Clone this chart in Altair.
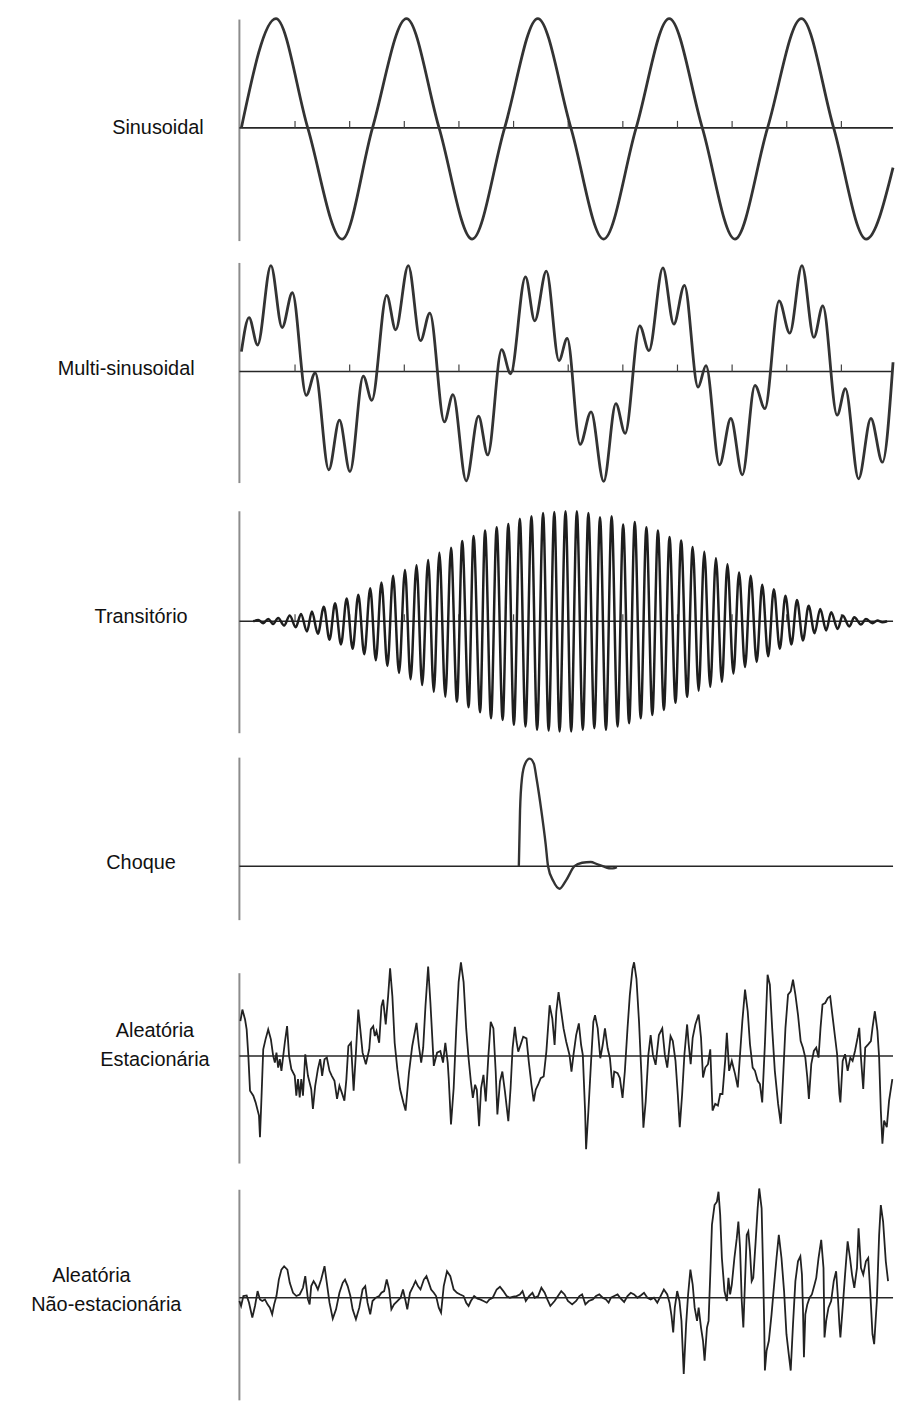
import altair as alt
import pandas as pd

# ---------------- data (time t in plot units, value v above the zero line) ----------------
SIN_T = [0, 34.8, 66.8, 101.3, 132, 166.2, 199, 232.3, 265, 298.4, 331.7, 364.6, 397.4,
         430.7, 464, 496.8, 529.7, 563.8, 596.2, 629, 656]
SIN_V = [0, 110, 0, -112, 0, 110, 0, -112, 0, 110, 0, -112, 0, 110, 0, -112, 0, 110, 0, -112, -40]

MULTI_T = [0, 7.7, 16.3, 29.7, 41, 51.3, 65.3, 74.3, 88, 98.7, 109.3, 122.7, 131.3, 146.3, 155.3,
           168, 180.3, 189.7, 204.3, 213, 226.3, 238.7, 248, 262, 271, 286, 295.3, 307, 319.7,
           328, 341, 352, 364.7, 377, 386.3, 401, 410.3, 424.3, 435.3, 446, 459.7, 467.7, 481.3,
           492.7, 504.3, 517, 527, 541.3, 552, 564.3, 576.3, 585.3, 599.7, 608, 621.3, 633.7,
           645.3, 656]
MULTI_V = [20, 54.3, 26.7, 106.7, 44.3, 79.3, -24, -1.3, -99, -49, -100.7, -4.7, -29, 76.7, 42,
           106.7, 31, 58.7, -50.7, -23.3, -110, -45, -84, 22, -2.3, 95.3, 51, 101, 11,
           33.3, -73.3, -40.7, -110.7, -32.3, -62.3, 46, 21, 104.3, 47.7, 86.7, -15.7, 6, -94,
           -47.3, -104, -14, -37.3, 71, 38.7, 106.7, 34.3, 66, -44, -17.3, -108, -47.3,
           -91.3, 9.3]

TRANS_T = [12, 17, 22, 27, 32, 37, 43, 48.7, 54.7, 60, 66, 71, 77, 83, 88.7, 94.3, 100.3, 106,
           112, 117.7, 123.7, 129.7, 135.3, 141, 147, 152.7, 158.7, 164.7, 170.3, 176.3, 182,
           188, 193.7, 199.3, 205.3, 211, 217, 222.3, 228.7, 233.7, 240.3, 245.3, 251.3, 257,
           263, 268.7, 274.3, 280.3, 286, 292, 297.7, 303.7, 309.3, 315, 320.3, 326.3, 332,
           337.7, 343.7, 349.3, 355.3, 361, 367, 372.7, 378.7, 384.3, 390.3, 396, 402, 407.7,
           413.7, 419.3, 425.3, 431, 437, 442.7, 448.7, 454.3, 460.3, 466, 472, 477.7, 483.7,
           489.3, 495.3, 501, 507, 512.7, 518.7, 524.3, 530.3, 536, 542, 547.7, 553.7, 559.3,
           565.3, 571, 577, 582.7, 588.7, 593.7, 600.3, 605.3, 612, 617, 623.7, 628.7, 635.3,
           640.3, 645.3, 650]
TRANS_V = [0, 1.2, -2, 2.3, -2.7, 3.3, -4.3, 5.7, -6, 7.3, -10.3, 9.7, -12.7, 14.7, -18.7, 18,
           -23.3, 23, -27.7, 26.7, -33.3, 33.3, -39.3, 39, -45, 45.7, -52, 51.7, -58.3, 56.3,
           -64.3, 61.7, -71, 69, -76, 74, -81, 80.7, -86.7, 85.7, -91.7, 91.3, -97.7, 94.7,
           -99.3, 98, -104.3, 103.3, -106, 105.7, -109.3, 109, -110, 110, -111, 110.7, -111,
           110.7, -109.3, 109, -107.7, 104.7, -109.3, 105.7, -106, 97.3, -102.7, 100, -97.7,
           94.7, -94.3, 91.3, -89.3, 84.7, -82, 81.3, -76, 74.7, -70, 70, -66, 63.3, -61,
           57.3, -52.7, 49, -46, 45.7, -41, 36.7, -35.3, 32.3, -27.7, 25.7, -23.3, 21.3,
           -19.3, 15.7, -12, 12.3, -9.3, 9, -7.7, 5.7, -5.3, 4, -3.3, 2.3, -2, 0.7, -1, 0]

SHOCK_T = [279.3, 280.5, 282.5, 285.5, 290.3, 294.5, 297, 302, 306.3, 308.7, 314, 320.3, 327,
           335.3, 343, 351.7, 358, 363.7, 370, 374, 378]
SHOCK_V = [0, 55.7, 89, 103, 108.3, 103, 89, 55.7, 22.3, 0, -15, -22.7, -14, 0, 3.5, 4.3, 2,
           0, -2, -2.2, -1]

STAT_T = [-1, 1, 3.7, 5.3, 7, 8.7, 12, 14.3, 17.7, 18.7, 20.3, 22, 24.3, 27, 29.7, 32, 33.7,
          35.3, 37, 38.7, 40.3, 43.7, 46, 48, 50.3, 53.7, 55.3, 57, 58.7, 60.3, 62, 64.3, 67,
          70.3, 72, 74.3, 77, 79.3, 81.3, 83.7, 86, 88.7, 91, 93.7, 96.3, 98.7, 101, 103.7,
          105.7, 107.7, 110.3, 113, 115.3, 117.7, 119.7, 122, 125.3, 128.7, 130.3, 132.7,
          134.3, 136, 138.7, 141, 142.7, 145.3, 147.7, 149.7, 152, 154.3, 157, 159.7, 163,
          165.3, 168.7, 172, 176.3, 178.7, 181, 183, 185.3, 188, 190.3, 193.7, 197, 200.3,
          203, 205.3, 207.7, 208.7, 211, 213.7, 216.3, 218.7, 221, 223.7, 226.3, 228.7, 231,
          233, 235.3, 237, 239.3, 241.3, 243.7, 246, 248.7, 251, 253.7, 256, 257.7, 260.3,
          262.7, 265.3, 268.7, 271, 273, 275.3, 277, 278.7, 281, 283.7, 287, 289.3, 292,
          294.3, 296.3, 298.7, 301.3, 304.3, 307, 310.3, 313, 315.3, 317, 319.3, 322, 324.3,
          327, 330.3, 332.3, 334.3, 337, 339.7, 342, 343.7, 346, 347, 349.3, 352, 354.3, 356,
          358.7, 361.3, 363.7, 366, 368.7, 371, 373.7, 375.3, 378.7, 381, 383.7, 386, 388.7,
          391, 393.7, 395.3, 397.7, 400.3, 402.7, 404.7, 407, 409.7, 412, 414.3, 417, 420.3,
          423.7, 426.3, 428.7, 432, 434.3, 437, 439.3, 441.3, 443.7, 446, 448.7, 450.3, 452.3,
          454.3, 457, 460.3, 462.7, 464.7, 467, 469.7, 472, 474.3, 477, 479.7, 482, 484.3,
          487, 488.7, 491, 493.7, 497, 499.7, 502, 504.3, 507, 509.7, 512, 514.7, 517, 519.7,
          522, 524.3, 527, 529.7, 532, 534.3, 537, 540.3, 543, 545.3, 547.7, 550.3, 553,
          555.3, 557.7, 560.3, 563, 565.3, 567.7, 569.7, 571.3, 573.7, 576.3, 578.7, 581, 583,
          585, 587.7, 590.3, 592.7, 595.3, 597.7, 599.7, 602, 603, 605.3, 607.7, 610.3, 613,
          615.3, 617.7, 620.3, 622, 623.7, 626, 628, 631, 633.7, 635.3, 637.7, 640.3, 642,
          643.7, 645.3, 647, 649.7, 652, 655.3]
STAT_V = [35, 46.7, 36.7, 26.7, 0, -35, -40, -46.7, -60, -81.7, -40, 6.7, 16.7, 26.7, 16.7, 0,
          -6.7, 3.3, -11.7, -3.3, -15, 13.3, 30, 0, -13.3, -20, -40, -23.3, -41.7, -23.3, -40,
          1.7, -20, -33.3, -53.3, -30, -13.3, -3.3, -20, -3.3, -1.7, -15, -20, -25, -43.3, -30,
          -36.7, -45, -23.3, 10, 13.3, -35, 3.3, 46.7, 26.7, 3.3, -8.3, 6.7, 26.7, 30, 20, 25,
          13.3, 50, 56.7, 31.7, 60, 88.3, 60, 13.3, -13.3, -33.3, -46.7, -55, -16.7, 10, 33.3,
          10, -6.7, 8.3, 50, 90, 53.3, -10, 3.3, 5, -6.7, 13.3, -6.7, -22.3, -69, -32.3, 27.7,
          74.3, 94.3, 74.3, 27.7, -2.3, -25.7, -42.3, -29, -34, -70.7, -32.3, -19, -45.7, 1,
          34.3, 27.7, -15.7, -59, -25.7, -15.7, -35.7, -65.7, -32.3, 7.7, 29.3, 14.3, 4.3, 11,
          19.3, 17.7, -5.7, -29, -45.7, -34, -29, -22.3, -20.7, 4.3, 51, 37.7, 11, 44.3, 64.3,
          44.3, 27.7, 14.3, 1, -15.7, 1, 21, 32.7, 11, 1, -55.7, -94, -55.7, -5.7, 34.3, 41,
          27.7, -2.3, 11, 27.7, 7.7, -2.3, -32.3, -15.7, -17.3, -22.3, -42.3, -15.7, 27.7, 61,
          87.7, 94.3, 77.7, 34.3, -19, -72.3, -45.7, 1, 21, 1, -9, 21, 27.7, 1, -11.7, 20, 15,
          -5, -38.3, -71.7, -38.3, 1.7, 31.7, 11.7, -8.3, 18.3, 31.7, 41.7, 18.3, -21.7, -11.7,
          -8.3, 6.7, -55, -48.3, -50, -38.3, -38.3, -5, 23.3, -15, -5, -18.3, -31.7, 1.7, 35,
          66.7, 45, 11.7, -11.7, -15, -25, -28.3, -46.7, 11.7, 81.7, 71.7, 28.3, -15, -48.3,
          -68.3, -21.7, 28.3, 61.7, 65, 76.7, 61.7, 41.7, 15, 8.3, -1.7, -21.7, -43.3, -8.3, 5,
          8.3, -1.7, 28.3, 51.7, 53.3, 58.3, 60, 38.3, 18.3, 1.7, -38.3, -46.7, -5, 1.7, -15,
          -1.7, -5, 5, 18.3, 28.3, -1.7, -33.3, 8.3, 11.7, 15, 28.3, 45, 25, -1.7, -55, -88.3,
          -65, -71.7, -45, -23.3]

NONSTAT_T = [-2, -0.3, 2, 5.3, 7.7, 11, 13.7, 16.3, 18.7, 21, 23.7, 26.3, 28.7, 31, 33, 35.3,
             37.7, 40.3, 43, 46.3, 48.7, 52, 55.3, 58.7, 62, 64.3, 67, 68.7, 70.3, 72.7, 74.7,
             77, 80.3, 83.7, 86, 88.7, 92, 95.3, 98.7, 102, 104.3, 107, 109.7, 112, 115.3,
             118.7, 122, 124.7, 127, 129.7, 132, 135.3, 138.7, 141, 143.7, 146.3, 148.7, 151,
             153.7, 157, 160.3, 162.7, 165.3, 167, 169.7, 173, 175.3, 177.7, 180.3, 183.7,
             186.3, 188.7, 191, 193.7, 196, 198.7, 201, 203.7, 207, 210.3, 213.7, 217, 220.3,
             223.7, 226.3, 228.7, 231, 234.3, 237.7, 240.3, 243.7, 247, 249.7, 253, 257, 260.3,
             263.7, 267, 270.3, 273.7, 277, 280.3, 283, 286.3, 289.7, 293, 295.3, 298.7, 302,
             305.3, 308, 311, 315.3, 318.7, 322, 325.3, 328.7, 333, 337, 340.3, 343, 346.3,
             349.7, 353.7, 357, 360.3, 363.7, 367, 369.7, 372, 375.3, 378.7, 382, 385.3, 388.7,
             392, 395.3, 398.7, 402, 405.3, 408.7, 412, 415.3, 418.7, 422, 425.3, 428.7, 431,
             433, 434.7, 436.3, 438.7, 441, 443, 445.3, 447.7, 449.7, 452, 454.3, 456.3, 458.7,
             460.3, 462.7, 464.7, 466.3, 468.7, 470.3, 472, 473.7, 476.3, 478.7, 480.3, 482,
             483.7, 486.3, 488.7, 490.3, 492, 493.7, 496.3, 498.7, 500.3, 502, 503.7, 505.3,
             507, 508.7, 510.3, 512, 513.7, 515.3, 517.7, 519.7, 521.3, 523.7, 525.3, 526.3,
             527, 528.7, 531, 533.7, 536.3, 538.7, 541, 543.7, 546.3, 548.7, 551, 553, 555.3,
             557.7, 560.3, 562.7, 564.3, 565.3, 566.3, 567.7, 569.7, 572, 574.3, 577, 578.7,
             581, 583.7, 586, 587, 588.7, 591, 593.7, 596.3, 598.7, 600.3, 602, 603, 605.3,
             607.7, 610.3, 612.7, 614.7, 617, 619.7, 621.3, 623.7, 626, 628.7, 631, 633, 635.3,
             637, 639.7, 642, 643.7, 646, 648.7, 651]
NONSTAT_V = [-3.3, -8.3, 1.7, 2.3, -5, -20, -8.3, 6.7, -1.7, -3.3, -1.7, -6.7, -10, -16.7,
             -6.7, 1.7, 18.3, 28.3, 31.7, 28.3, 15, 5, 1.7, 3.3, 10, 21.7, -1.7, -6.7, 11.7,
             16.7, 13.3, 8.3, 18.3, 31.7, 15, -5, -21, -11.7, 5, 15, 18.3, 11.7, 1.7, -11.7,
             -21.7, -10, 8.3, 11.7, -5, -16.7, -3.3, 0, 1.7, 5, 6.7, 18.3, 8.3, -11.7, -6.7,
             -3.3, 0, 8.3, -3.3, -11.7, 5, 11.7, 16.7, 11.7, 8.3, 18.3, 21.7, 15, 8.3, 5, 1.7,
             -10, -15, 11.7, 26.7, 21.7, 8.3, 5, 3.3, 1.7, -5, -8.3, -3.3, 1.7, -1, -1.7, -3.3,
             -5, -1.7, 0, 8.3, 11, 6.7, 1.7, 0, 1, 1.7, 3.3, 6.7, -3.3, 1.7, 5, 0, 1.7, 10, 5,
             -1.7, -8.3, -3.3, 1.7, 6.7, 3.3, -3.3, -6.7, -3.3, 1.7, 3.3, -6.7, -3.3, -1.7,
             1.7, 3.3, 0, -1.7, -5, 0, 1.7, 3.3, -1, -4.3, 1.7, 5, 3.3, 0, 2.3, 5, 0, -1.7, 0,
             -5, 1.7, 8.3, 3.3, -5, -18.3, -35, -10, 6.7, -3.3, -23.3, -76.7, -26.7, 3.3, 28.3,
             13.3, -10, -23.3, -10, -30, -43.3, -63.3, -30, -23.3, 23.3, 73.3, 93.3, 96.7,
             106.7, 83.3, 40, 6.7, -3.3, 20, 3.3, 13.3, 40, 60, 76.7, 50, -3.3, -30, 16.7,
             63.3, 66.7, 46.7, 16.7, 20, 56.7, 90, 110, 90, 23.3, -26.7, -73.3, -53.3, -43.3,
             -16.7, 13.3, 40, 63.3, 40, 6.7, -36.7, -56.7, -73.3, -26.7, 16.7, 36.7, 41.7,
             23.3, -10, -60, -16.7, -6.7, 0, 3.3, 13.3, 20, 40, 58.3, 30, -40, -23.3, -10,
             -3.3, 16.7, 26.7, 3.3, -26.7, -40, -10, 23.3, 56.7, 40, 23.3, 10, 30, 70, 30,
             23.3, 36.7, 40, 6.7, -36.7, -46.7, -3.3, 63.3, 93.3, 76.7, 36.7, 16.7]

TICKS_T = [54, 109, 164, 219, 274, 329, 384, 439, 494, 549, 604]

LABEL_TEXT = [["Sinusoidal"], ["Multi-sinusoidal"], ["Transitório"], ["Choque"],
              ["Aleatória", "Estacionária"], ["Aleatória", "Não-estacionária"]]
LABEL_T = [[-84], [-116], [-101], [-101], [-87, -87], [-151, -136]]
LABEL_V = [[0], [2], [4], [3], [25.3, -3.7], [21.7, -7.3]]

# ---------------- layout per panel ----------------
X_DOMAIN = [-243, 656]
WIDTH = 899


def panel(height, lo, hi, ax_top, ax_bot, t, v, interp, idx, ticks, sig_w, sig_col):
    xs = alt.Scale(domain=X_DOMAIN, nice=False, zero=False)
    ys = alt.Scale(domain=[lo, hi], nice=False, zero=False)
    X = lambda f: alt.X(f, scale=xs, axis=None)
    Y = lambda f: alt.Y(f, scale=ys, axis=None)

    axis_df = pd.DataFrame({"t": [-2], "v": [ax_top], "v2": [ax_bot]})
    axis = alt.Chart(axis_df).mark_rule(color="#8c8c8c", strokeWidth=2).encode(
        x=X("t:Q"), y=Y("v:Q"), y2="v2:Q")

    zero_df = pd.DataFrame({"t": [-2], "t2": [656], "v": [0]})
    zero = alt.Chart(zero_df).mark_rule(color="#262626", strokeWidth=1.6).encode(
        x=X("t:Q"), x2="t2:Q", y=Y("v:Q"))

    sig_df = pd.DataFrame({"t": t, "v": v})
    sig = alt.Chart(sig_df).mark_line(color=sig_col, strokeWidth=sig_w,
                                      interpolate=interp).encode(
        x=X("t:Q"), y=Y("v:Q"), order="t:Q")

    lab_df = pd.DataFrame({"t": LABEL_T[idx], "v": LABEL_V[idx], "text": LABEL_TEXT[idx]})
    lab = alt.Chart(lab_df).mark_text(font="Liberation Sans", fontSize=20, color="#111111",
                                      align="center", baseline="middle").encode(
        x=X("t:Q"), y=Y("v:Q"), text="text:N")

    layers = [axis, zero]
    if ticks:
        tick_df = pd.DataFrame({"t": TICKS_T, "v": [0] * len(TICKS_T), "v2": [7] * len(TICKS_T)})
        layers.append(alt.Chart(tick_df).mark_rule(color="#444444", strokeWidth=1.2).encode(
            x=X("t:Q"), y=Y("v:Q"), y2="v2:Q"))
    layers += [sig, lab]
    return alt.layer(*layers).properties(width=WIDTH, height=height)


p1 = panel(250, -126, 124, 109, -114, SIN_T, SIN_V, "monotone", 0, True, 2.8, "#333333")
p2 = panel(245, -125.7, 119.3, 109.3, -112.3, MULTI_T, MULTI_V, "monotone", 1, True, 2.8, "#333333")
p3 = panel(250, -124.3, 125.7, 110.7, -112.7, TRANS_T, TRANS_V, "monotone", 2, True, 2.5, "#1e1e1e")
p4 = panel(200, -77.7, 122.3, 109.3, -54.3, SHOCK_T, SHOCK_V, "monotone", 3, False, 2.4, "#333333")
p5 = panel(235, -121.7, 113.3, 83.3, -108.3, STAT_T, STAT_V, "linear", 4, False, 1.8, "#222222")
p6 = panel(225, -103.3, 121.7, 108.7, -103.3, NONSTAT_T, NONSTAT_V, "linear", 5, False, 1.8, "#222222")

chart = alt.vconcat(p1, p2, p3, p4, p5, p6, spacing=0).properties(
    padding=0, background="white"
).configure_view(stroke=None).configure_concat(spacing=0)

chart.save("out.html", embed_options={"renderer": "svg", "actions": False})
